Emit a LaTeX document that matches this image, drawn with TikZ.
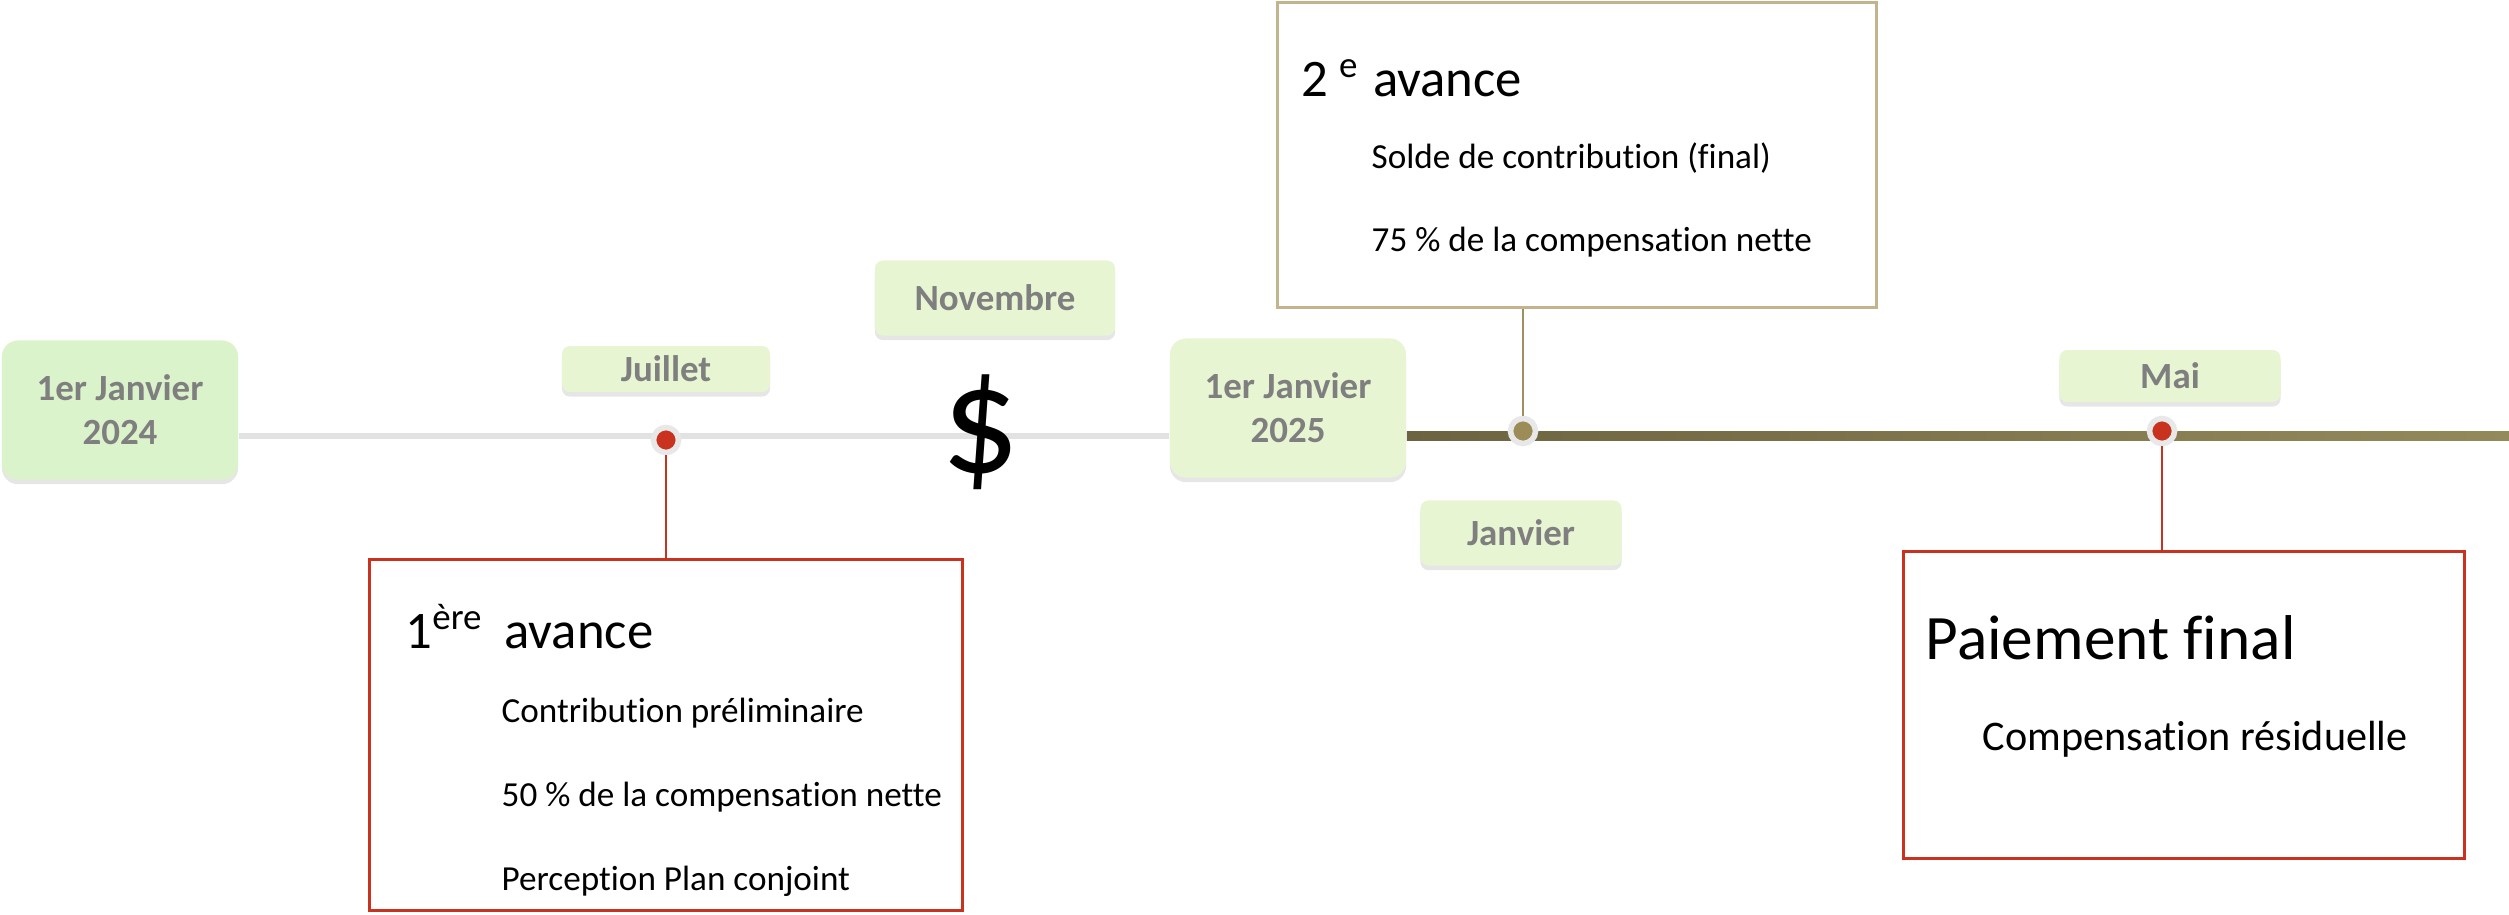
\documentclass[tikz,border=0pt]{standalone}
\usepackage{fontspec}
\setmainfont{Carlito}[Ligatures=NoCommon]
\usetikzlibrary{positioning}
\usetikzlibrary{shapes}
\usetikzlibrary{shadows}

\definecolor{datefill}{HTML}{E8F5D3}
\definecolor{datefillstart}{HTML}{DBF3CB}
\definecolor{dategray}{HTML}{7F7F7F}
\definecolor{redline}{HTML}{C8321E}
\definecolor{tanline}{HTML}{C2B58E}
\definecolor{goldstem}{HTML}{9E8F5E}
\definecolor{golddot}{HTML}{9B8C58}
\definecolor{oliveleft}{HTML}{6C6341}
\definecolor{oliveright}{HTML}{938A5B}
\definecolor{halogray}{HTML}{E8E8E8}
\definecolor{greyline}{HTML}{E2E2E2}

\tikzset{
  datebox/.style={fill=datefill, text=dategray, rounded corners=0.08cm, inner sep=0pt,
    font=\fontsize{10.5}{12.5}\selectfont\bfseries, align=center,
    drop shadow={shadow xshift=0pt, shadow yshift=-1.3pt, opacity=0.2}},
  notebox/.style={draw, line width=0.85pt, fill=white, inner sep=0pt},
  eventdot/.style={circle, draw=halogray, line width=1.6pt, minimum size=0.25cm, inner sep=0pt},
  notetext/.style={anchor=base west, inner sep=0pt, font=\fontsize{10}{12}\selectfont},
}

\begin{document}
\begin{tikzpicture}[x=0.01cm, y=-0.01cm]
\useasboundingbox (0,0) rectangle (2509,914);
%timeline
\coordinate (tl) at (0,436);
\node[datebox, fill=datefillstart, minimum width=2.36cm, minimum height=1.39cm, rounded corners=0.16cm] (jan24) at (120,410) {1er Janvier\\2024};
\node[datebox, minimum width=2.36cm, minimum height=1.39cm, rounded corners=0.16cm] (jan25) at (1288,408) {1er Janvier\\2025};
\draw[greyline, line width=1.7pt] (jan24.east |- tl) -- (jan25.west |- tl); %grey part
\shade[left color=oliveleft, right color=oliveright] (jan25.east |- 0,431.5) rectangle (2509,440.5); %dark part
%month labels
\node[datebox, minimum width=2.08cm, minimum height=0.46cm] (juillet) at (666,369) {Juillet};
\node[datebox, minimum width=2.40cm, minimum height=0.75cm] (novembre) at (995,298) {Novembre};
\node[datebox, minimum width=2.01cm, minimum height=0.65cm] (janvier) at (1521,533) {Janvier};
\node[datebox, minimum width=2.21cm, minimum height=0.52cm] (mai) at (2170,376) {Mai};
\node[font=\fontsize{44}{44}\selectfont, inner sep=0pt] (dollar) at (981,432) {\$};
%boxes
\node[notebox, draw=redline, minimum width=5.93cm, minimum height=3.50cm] (avance1) at (666,735) {};
\node[notebox, draw=tanline, minimum width=5.99cm, minimum height=3.04cm] (avance2) at (1577,155) {};
\node[notebox, draw=redline, minimum width=5.60cm, minimum height=3.07cm] (paiement) at (2184,705) {};
%stems and dots
\node[eventdot, fill=redline] (juilletdot) at (666,440) {};
\node[eventdot, fill=golddot] (jandot) at (1523,431) {};
\node[eventdot, fill=redline] (maidot) at (2162,431) {};
\draw[redline, line width=0.6pt] (juilletdot.south) -- (juilletdot.south |- avance1.north);
\draw[goldstem, line width=0.6pt] (jandot.north) -- (jandot.north |- avance2.south);
\draw[redline, line width=0.6pt] (maidot.south) -- (maidot.south |- paiement.north);
%texts
\node[notetext, font=\fontsize{15}{18}\selectfont] (t1) at (405,648) {1\textsuperscript{ère}\hspace{6pt}avance};
\node[notetext] (t1a) at (501,722) {Contribution préliminaire};
\node[notetext] (t1b) at (501,806) {50 \% de la compensation nette};
\node[notetext] (t1c) at (501,890) {Perception Plan conjoint};
\node[notetext, font=\fontsize{15}{18}\selectfont] (t2) at (1301,96) {2\hspace{3pt}\textsuperscript{e}\hspace{4pt}avance};
\node[notetext] (t2a) at (1371,168) {Solde de contribution (final)};
\node[notetext] (t2b) at (1371,251) {75 \% de la compensation nette};
\node[notetext, font=\fontsize{18}{21}\selectfont] (t3) at (1925,659) {Paiement final};
\node[notetext, font=\fontsize{12}{14}\selectfont] (t3a) at (1982,750) {Compensation résiduelle};
\end{tikzpicture}
\end{document}
